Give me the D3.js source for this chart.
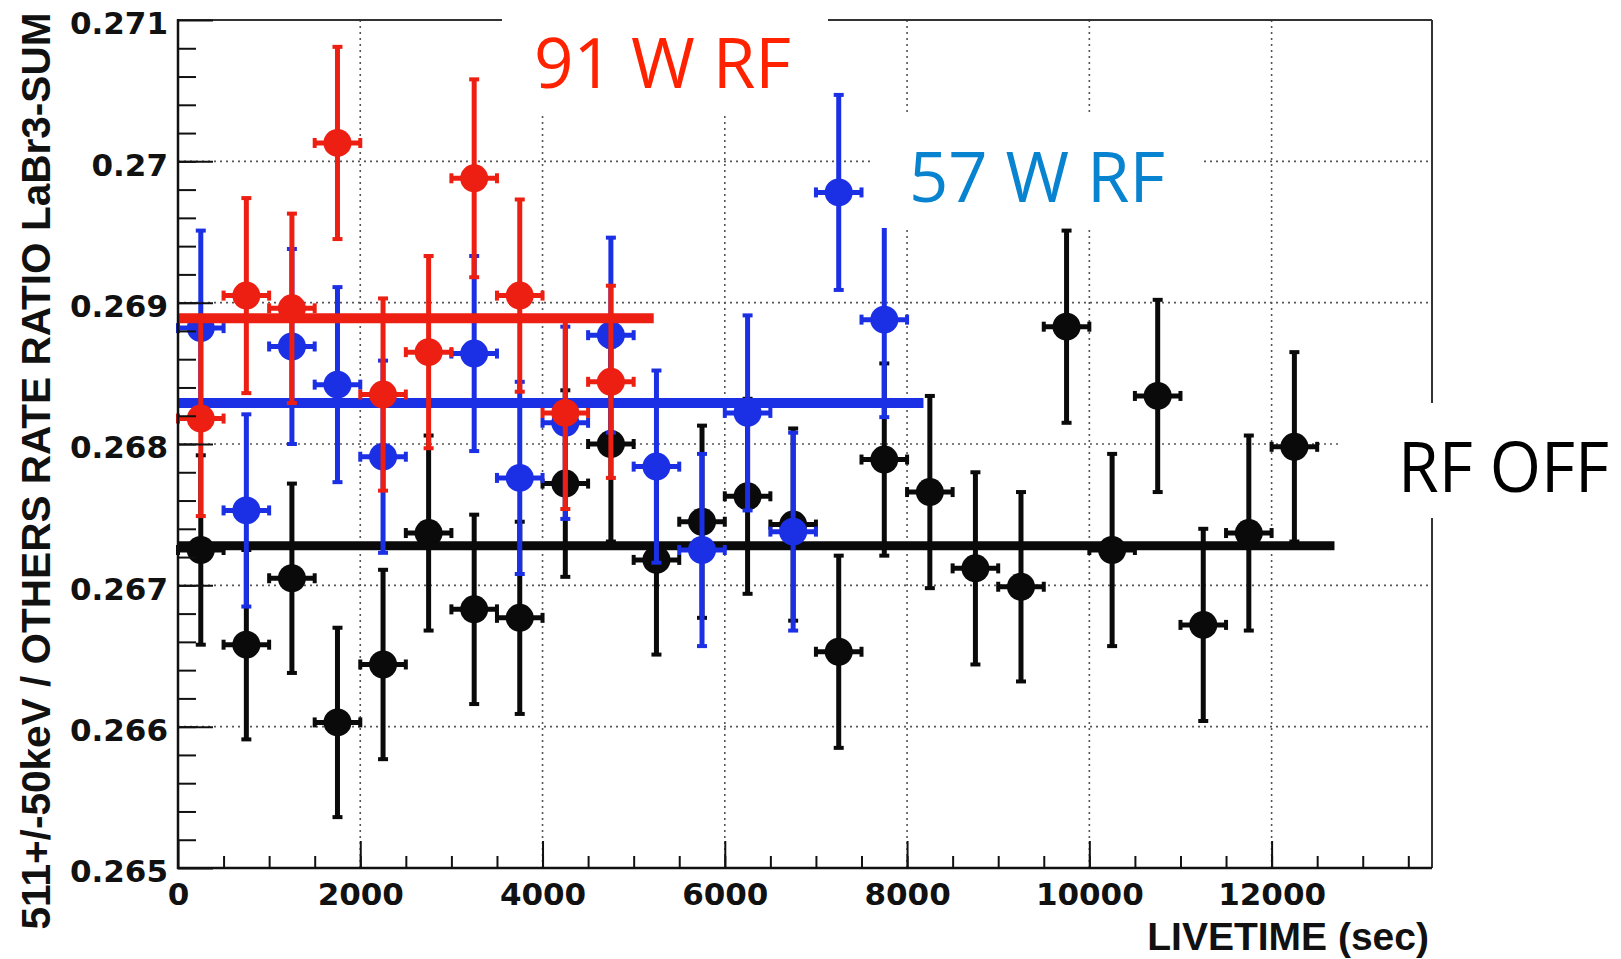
<!DOCTYPE html>
<html>
<head>
<meta charset="utf-8">
<script src="https://cdn.jsdelivr.net/npm/d3@7/dist/d3.min.js"></script>
<style>
  body { margin: 0; background: #fff; }
  svg { display: block; }
</style>
</head>
<body>
<div id="graph"></div>
<script>
//Values: ratio vs livetime, 500 s bins

//RF OFF (black)
const offTime  = [250, 750, 1250, 1750, 2250, 2750, 3250, 3750, 4250, 4750, 5250, 5750, 6250,
                  6750, 7250, 7750, 8250, 8750, 9250, 9750, 10250, 10750, 11250, 11750, 12250];
const offRatio = [0.26725, 0.26658, 0.26705, 0.26603, 0.26644, 0.26737, 0.26683, 0.26677, 0.26772,
                  0.26800, 0.26718, 0.26745, 0.26763, 0.26743, 0.26653, 0.26789, 0.26766, 0.26712,
                  0.26699, 0.26883, 0.26725, 0.26834, 0.26672, 0.26737, 0.26798];
const offErr   = [0.00067, 0.00067, 0.00067, 0.00067, 0.00067, 0.00069, 0.00067, 0.00068, 0.00066,
                  0.00069, 0.00067, 0.00068, 0.00069, 0.00068, 0.00068, 0.00068, 0.00068, 0.00068,
                  0.00067, 0.00068, 0.00068, 0.00068, 0.00068, 0.00069, 0.00067];

//57 W RF (blue)
const w57Time  = [250, 750, 1250, 1750, 2250, 3250, 3750, 4250, 4750, 5250, 5750, 6250, 6750, 7250, 7750];
const w57Ratio = [0.26882, 0.26753, 0.26869, 0.26842, 0.26791, 0.26864, 0.26776, 0.26815, 0.26877,
                  0.26784, 0.26725, 0.26822, 0.26738, 0.26978, 0.26888];
const w57Err   = [0.00069, 0.00068, 0.00069, 0.00069, 0.00068, 0.00069, 0.00068, 0.00068, 0.00069,
                  0.00068, 0.00068, 0.00069, 0.00070, 0.00069, 0.00069];

//91 W RF (red)
const w91Time  = [250, 750, 1250, 1750, 2250, 2750, 3250, 3750, 4250, 4750];
const w91Ratio = [0.26818, 0.26905, 0.26896, 0.27013, 0.26835, 0.26865, 0.26988, 0.26905, 0.26822, 0.26844];
const w91Err   = [0.00069, 0.00069, 0.00067, 0.00068, 0.00068, 0.00068, 0.00070, 0.00068, 0.00068, 0.00068];

//constant fits: level and end of fit range (sec)
const fitNames  = ["off", "w57", "w91"];
const fitLevels = [0.26728, 0.26829, 0.26889];
const fitEnds   = [12690, 8180, 5220];

const binHalf = 250;

//Axis ticks
const xTicks = [0, 2000, 4000, 6000, 8000, 10000, 12000];
const yTicks = [0.265, 0.266, 0.267, 0.268, 0.269, 0.270, 0.271];

//Display specifications
const W = 1621, H = 959;
const x = d3.scaleLinear().domain([0, 13760]).range([178, 1432]);
const y = d3.scaleLinear().domain([0.265, 0.271]).range([868, 20]);

const colors = {off: "#0a0a0a", w57: "#1b2fe4", w91: "#ec1f12"};

const svg = d3.select("#graph").append("svg")
    .attr("width", W)
    .attr("height", H);

//Grid (dotted)
const grid = svg.append("g")
    .attr("stroke", "#555")
    .attr("stroke-width", 1.6)
    .attr("stroke-dasharray", "2,4");

grid.selectAll(".gx")
    .data(xTicks.slice(1))
    .enter().append("line")
    .attr("x1", d => x(d)).attr("x2", d => x(d))
    .attr("y1", y(0.271)).attr("y2", y(0.265));

grid.selectAll(".gy")
    .data(yTicks.slice(1, -1))
    .enter().append("line")
    .attr("x1", x(0)).attr("x2", x(13760))
    .attr("y1", d => y(d)).attr("y2", d => y(d));

//Draw one series with error bars and markers
function drawSeries (key, times, vals, errs) {
   const data = times.map((t, i) => ({t: t, v: vals[i], e: errs[i]}));
   const g = svg.append("g").attr("class", key);
   const c = colors[key];

   //vertical error bars
   g.selectAll(".ey")
      .data(data).enter().append("line")
      .attr("x1", d => x(d.t)).attr("x2", d => x(d.t))
      .attr("y1", d => y(d.v - d.e)).attr("y2", d => y(d.v + d.e))
      .attr("stroke", c).attr("stroke-width", 5);

   //caps on vertical bars
   g.selectAll(".cy")
      .data(data.flatMap(d => [d.v - d.e, d.v + d.e].map(v => ({t: d.t, v: v}))))
      .enter().append("line")
      .attr("x1", d => x(d.t) - 5).attr("x2", d => x(d.t) + 5)
      .attr("y1", d => y(d.v)).attr("y2", d => y(d.v))
      .attr("stroke", c).attr("stroke-width", 4);

   //horizontal error bars
   g.selectAll(".ex")
      .data(data).enter().append("line")
      .attr("x1", d => x(d.t - binHalf)).attr("x2", d => x(d.t + binHalf))
      .attr("y1", d => y(d.v)).attr("y2", d => y(d.v))
      .attr("stroke", c).attr("stroke-width", 5);

   //caps on horizontal bars
   g.selectAll(".cx")
      .data(data.flatMap(d => [d.t - binHalf, d.t + binHalf].map(t => ({t: t, v: d.v}))))
      .enter().append("line")
      .attr("x1", d => x(d.t)).attr("x2", d => x(d.t))
      .attr("y1", d => y(d.v) - 5).attr("y2", d => y(d.v) + 5)
      .attr("stroke", c).attr("stroke-width", 4);

   //markers
   g.selectAll("circle")
      .data(data).enter().append("circle")
      .attr("cx", d => x(d.t))
      .attr("cy", d => y(d.v))
      .attr("r", 14)
      .attr("fill", c);

   //fit line
   const k = fitNames.indexOf(key);
   g.append("line")
      .attr("x1", x(0)).attr("x2", x(fitEnds[k]))
      .attr("y1", y(fitLevels[k])).attr("y2", y(fitLevels[k]))
      .attr("stroke", c)
      .attr("stroke-width", key == "off" ? 9 : 10);
}

drawSeries("off", offTime, offRatio, offErr);
drawSeries("w57", w57Time, w57Ratio, w57Err);
drawSeries("w91", w91Time, w91Ratio, w91Err);

//Frame
svg.append("line")
   .attr("x1", x(0)).attr("x2", x(13760)).attr("y1", y(0.271)).attr("y2", y(0.271))
   .attr("stroke", "#333").attr("stroke-width", 2);
svg.append("line")
   .attr("x1", x(13760)).attr("x2", x(13760)).attr("y1", y(0.271)).attr("y2", y(0.265))
   .attr("stroke", "#333").attr("stroke-width", 2);
svg.append("line")
   .attr("x1", x(0)).attr("x2", x(0)).attr("y1", y(0.271) - 1).attr("y2", y(0.265) + 1)
   .attr("stroke", "#111").attr("stroke-width", 2.5);
svg.append("line")
   .attr("x1", x(0) - 1).attr("x2", x(13760)).attr("y1", y(0.265)).attr("y2", y(0.265))
   .attr("stroke", "#111").attr("stroke-width", 2.5);

//X axis minor + major ticks
svg.append("g")
   .attr("class", "axis")
   .attr("transform", "translate(0," + y(0.265) + ")")
   .call(d3.axisBottom(x).tickValues(d3.range(500, 13760, 500)).tickSize(-12).tickFormat(""));

svg.append("g")
   .attr("class", "axis xmajor")
   .attr("transform", "translate(0," + y(0.265) + ")")
   .call(d3.axisBottom(x).tickValues(xTicks).tickSize(-27).tickPadding(15).tickFormat(d3.format("d")));

//Y axis minor + major ticks
svg.append("g")
   .attr("class", "axis")
   .attr("transform", "translate(" + x(0) + ",0)")
   .call(d3.axisLeft(y).tickValues(d3.range(0.2652, 0.2709, 0.0002)).tickSize(-18).tickFormat(""));

svg.append("g")
   .attr("class", "axis ymajor")
   .attr("transform", "translate(" + x(0) + ",0)")
   .call(d3.axisLeft(y).tickValues(yTicks).tickSize(-35).tickPadding(10)
         .tickFormat(d => String(+d.toFixed(3))));

svg.selectAll(".axis .domain").remove();
svg.selectAll(".axis line").attr("stroke", "#111").attr("stroke-width", 2);
svg.selectAll(".axis text")
   .attr("fill", "#111")
   .style("font-family", "'DejaVu Sans', sans-serif")
   .style("font-weight", "bold")
   .style("font-size", "31px");
svg.selectAll(".ymajor text").attr("dy", "0.45em");

//Axis titles
svg.append("text")
   .attr("transform", "translate(50," + 471 + ") rotate(-90)")
   .attr("text-anchor", "middle")
   .attr("textLength", 917)
   .attr("lengthAdjust", "spacingAndGlyphs")
   .style("font-family", "'Liberation Sans', Arial, sans-serif")
   .style("font-weight", "bold")
   .style("font-size", "41px")
   .attr("fill", "#111")
   .text("511+/-50keV / OTHERS RATE RATIO LaBr3-SUM");

svg.append("text")
   .attr("x", 1429)
   .attr("y", 950)
   .attr("text-anchor", "end")
   .style("font-family", "'Liberation Sans', Arial, sans-serif")
   .style("font-weight", "bold")
   .style("font-size", "39px")
   .attr("fill", "#111")
   .text("LIVETIME (sec)");

//White label patches pasted over the plot
const patches = [[502, 0, 326, 115], [873, 113, 327, 115], [1339, 403, 282, 115]];
svg.selectAll(".patch")
   .data(patches).enter().append("rect")
   .attr("x", d => d[0]).attr("y", d => d[1])
   .attr("width", d => d[2]).attr("height", d => d[3])
   .attr("fill", "#fff");

const notes = [
   {text: "91 W RF", x: 534, y: 88, len: 257, color: "#ff2200"},
   {text: "57 W RF", x: 909, y: 202, len: 256, color: "#0883cf"},
   {text: "RF OFF", x: 1398, y: 492, len: 211, color: "#000"}
];
svg.selectAll(".note")
   .data(notes).enter().append("text")
   .attr("x", d => d.x).attr("y", d => d.y)
   .attr("textLength", d => d.len)
   .attr("lengthAdjust", "spacingAndGlyphs")
   .attr("fill", d => d.color)
   .style("font-family", "'Open Sans', 'Noto Sans', sans-serif")
   .style("font-size", "70px")
   .text(d => d.text);
</script>
</body>
</html>
